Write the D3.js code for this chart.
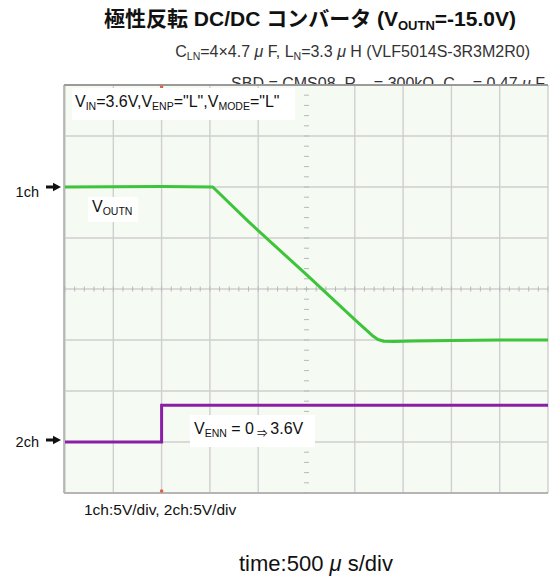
<!DOCTYPE html>
<html>
<head>
<meta charset="utf-8">
<script src="https://cdn.jsdelivr.net/npm/d3@7"></script>
<style>
  html, body { margin: 0; padding: 0; background: #ffffff; }
  svg { display: block; }
  text { font-family: "Liberation Sans", Arial, "Noto Sans CJK JP", sans-serif; fill: #111; }
</style>
</head>
<body>
<svg id="chart" width="550" height="579"></svg>
<script>
// Scope trace: inverting DC/DC converter start-up
// time in ms (500 µs/div), trigger at t = 0
const ch1Time = [-1.0, 0.0, 0.53, 0.9, 1.5, 2.0, 2.18, 2.24, 2.30, 2.4, 2.6, 3.0, 3.5, 4.0];
const ch1Volt = [0.0, 0.05, 0.0, -3.4, -8.6, -13.0, -14.55, -14.95, -15.12, -15.15, -15.1, -15.05, -15.0, -15.0];
const ch2Time = [-1.0, 0.0, 0.0, 4.0];
const ch2Volt = [0.0, 0.0, 3.6, 3.6];

const timeDomain = [-1.0, 4.0];     // 10 divisions
const ch1Domain = [10, -30];         // 5 V/div, ground 2 div from top
const ch2Domain = [35, -5];          // 5 V/div, ground 7 div from top
const timeStep = 0.5;
const voltStep = 5;

const svg = d3.select("#chart");
const L = 65, R = 548, T = 85, B = 493;

const x = d3.scaleLinear().domain(timeDomain).range([L, R]);
const y1 = d3.scaleLinear().domain(ch1Domain).range([T, B]);
const y2 = d3.scaleLinear().domain(ch2Domain).range([T, B]);

// Title and conditions
const title = svg.append("text").attr("x", 310).attr("y", 26)
  .attr("text-anchor", "middle").style("font-size", "21px").style("font-weight", "bold");
title.append("tspan").text("極性反転 DC/DC コンバータ (V");
title.append("tspan").attr("dy", 4).style("font-size", "13px").text("OUTN");
title.append("tspan").attr("dy", -4).text("=-15.0V)");

const mu = "\u03bc";
const sub2 = svg.append("text").attr("x", 530).attr("y", 57)
  .attr("text-anchor", "end").style("font-size", "16px").style("fill", "#333");
sub2.append("tspan").text("C");
sub2.append("tspan").attr("dy", 3).style("font-size", "10.5px").text("LN");
sub2.append("tspan").attr("dy", -3).text("=4×4.7 ");
sub2.append("tspan").style("font-style", "italic").text(mu);
sub2.append("tspan").text(" F, L");
sub2.append("tspan").attr("dy", 3).style("font-size", "10.5px").text("N");
sub2.append("tspan").attr("dy", -3).text("=3.3 ");
sub2.append("tspan").style("font-style", "italic").text(mu);
sub2.append("tspan").text(" H (VLF5014S-3R3M2R0)");

const sub3 = svg.append("text").attr("x", 545).attr("y", 89)
  .attr("text-anchor", "end").style("font-size", "16px").style("fill", "#333");
sub3.append("tspan").text("SBD = CMS08, R");
sub3.append("tspan").attr("dy", 3).style("font-size", "10.5px").text("FB");
sub3.append("tspan").attr("dy", -3).text(" = 300kΩ, C");
sub3.append("tspan").attr("dy", 3).style("font-size", "10.5px").text("FB");
sub3.append("tspan").attr("dy", -3).text(" = 0.47 ");
sub3.append("tspan").style("font-style", "italic").text(mu);
sub3.append("tspan").text(" F");

// Screen background
svg.append("rect").attr("x", L).attr("y", T).attr("width", R - L).attr("height", B - T)
  .attr("fill", "#f5faf3");

// Grid
const xTicks = d3.range(timeDomain[0], timeDomain[1] + 1e-9, timeStep);
const yTicks = d3.range(ch1Domain[1], ch1Domain[0] + 1e-9, voltStep);
const xCenter = (timeDomain[0] + timeDomain[1]) / 2;
const yCenter = (ch1Domain[0] + ch1Domain[1]) / 2;

const grid = svg.append("g");
grid.selectAll("line.v").data(xTicks.filter(t => Math.abs(t - xCenter) > 1e-6)).join("line")
  .attr("x1", d => x(d)).attr("x2", d => x(d)).attr("y1", T).attr("y2", B)
  .attr("stroke", "#cfcfcf").attr("stroke-width", 1.4);
grid.selectAll("line.h").data(yTicks).join("line")
  .attr("x1", L).attr("x2", R).attr("y1", d => y1(d)).attr("y2", d => y1(d))
  .attr("stroke", "#cfcfcf").attr("stroke-width", 1.4);

// Minor ticks along centre axes
const minorX = d3.range(timeDomain[0], timeDomain[1] + 1e-9, timeStep / 5);
grid.selectAll("line.mx").data(minorX).join("line")
  .attr("x1", d => x(d)).attr("x2", d => x(d))
  .attr("y1", y1(yCenter) - 2.5).attr("y2", y1(yCenter) + 2.5)
  .attr("stroke", "#b8b8b8").attr("stroke-width", 1);
const minorY = d3.range(ch1Domain[1], ch1Domain[0] + 1e-9, voltStep / 5);
grid.selectAll("line.my").data(minorY).join("line")
  .attr("x1", x(xCenter) - 2.5).attr("x2", x(xCenter) + 2.5)
  .attr("y1", d => y1(d)).attr("y2", d => y1(d))
  .attr("stroke", "#b8b8b8").attr("stroke-width", 1);

// Frame
svg.append("line").attr("x1", L - 1).attr("x2", R).attr("y1", T).attr("y2", T)
  .attr("stroke", "#9a9a9a").attr("stroke-width", 2);
svg.append("line").attr("x1", L - 1).attr("x2", R).attr("y1", B).attr("y2", B)
  .attr("stroke", "#a8a8a8").attr("stroke-width", 1.5);
svg.append("line").attr("x1", L - 1).attr("x2", L - 1).attr("y1", T).attr("y2", B)
  .attr("stroke", "#a8a8a8").attr("stroke-width", 1.5);

// Trigger position marks
svg.append("circle").attr("cx", x(0)).attr("cy", T + 2).attr("r", 1.8).attr("fill", "#e0604a");
svg.append("circle").attr("cx", x(0)).attr("cy", B - 2).attr("r", 1.8).attr("fill", "#e0604a");

// Traces
const line1 = d3.line().x((d, i) => x(ch1Time[i])).y((d, i) => y1(ch1Volt[i]));
svg.append("path").datum(ch1Time).attr("d", line1)
  .attr("fill", "none").attr("stroke", "#3dc43a").attr("stroke-width", 3).attr("stroke-linejoin", "round");
const line2 = d3.line().x((d, i) => x(ch2Time[i])).y((d, i) => y2(ch2Volt[i]));
svg.append("path").datum(ch2Time).attr("d", line2)
  .attr("fill", "none").attr("stroke", "#8a1fa6").attr("stroke-width", 3);

// Condition box
svg.append("rect").attr("x", 72).attr("y", 88).attr("width", 223).attr("height", 32).attr("fill", "#ffffff");
const cond = svg.append("text").attr("x", 75).attr("y", 107).style("font-size", "16px");
[["V", "IN", "=3.6V,"], ["V", "ENP", "=\"L\","], ["V", "MODE", "=\"L\""]].forEach(([a, s, b]) => {
  cond.append("tspan").text(a);
  cond.append("tspan").attr("dy", 3).style("font-size", "10.5px").text(s);
  cond.append("tspan").attr("dy", -3).text(b);
});

// Trace labels
svg.append("rect").attr("x", 88).attr("y", 197).attr("width", 50).attr("height", 25).attr("fill", "#ffffff");
const vo = svg.append("text").attr("x", 92).attr("y", 212).style("font-size", "16px");
vo.append("tspan").text("V");
vo.append("tspan").attr("dy", 3).style("font-size", "10.5px").text("OUTN");

svg.append("rect").attr("x", 190).attr("y", 415).attr("width", 125).attr("height", 32).attr("fill", "#ffffff");
const ve = svg.append("text").attr("x", 194).attr("y", 434).style("font-size", "16px");
ve.append("tspan").text("V");
ve.append("tspan").attr("dy", 3).style("font-size", "10.5px").text("ENN");
ve.append("tspan").attr("dy", -3).text(" = 0");
ve.append("tspan").attr("dy", 3).style("font-size", "10.5px").text(" ⇒ ");
ve.append("tspan").attr("dy", -3).text(" 3.6V");

// Channel ground markers
function marker(label, yPos, textY) {
  svg.append("text").attr("x", 39).attr("y", textY).attr("text-anchor", "end")
    .style("font-size", "14.5px").text(label);
  svg.append("path")
    .attr("d", `M46,${yPos - 1.4}H53V${yPos - 4.2}L61,${yPos}L53,${yPos + 4.2}V${yPos + 1.4}H46Z`)
    .attr("fill", "#111");
}
marker("1ch", y1(0), 197);
marker("2ch", y2(0) - 2, 447);

// Scale notes
svg.append("text").attr("x", 84).attr("y", 515).style("font-size", "15.5px").text("1ch:5V/div, 2ch:5V/div");
const tl = svg.append("text").attr("x", 239).attr("y", 571).style("font-size", "22px");
tl.append("tspan").text("time:500 ");
tl.append("tspan").style("font-style", "italic").text(mu);
tl.append("tspan").text(" s/div");
</script>
</body>
</html>
